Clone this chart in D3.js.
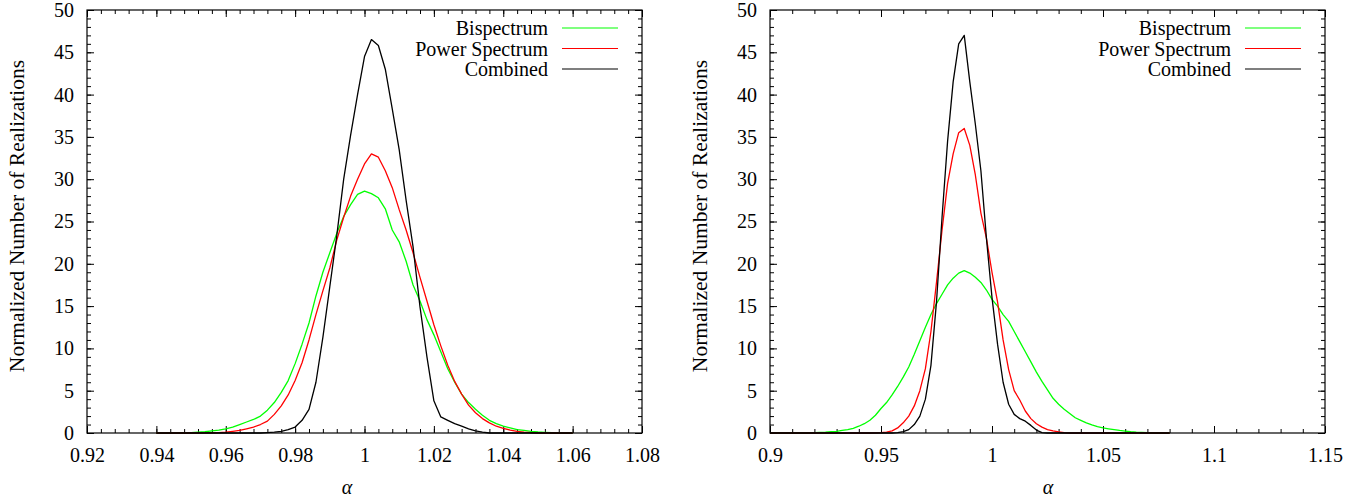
<!DOCTYPE html>
<html>
<head>
<meta charset="utf-8">
<script src="https://cdn.jsdelivr.net/npm/d3@7"></script>
<style>
body { margin: 0; background: #fff; }
svg text { font-family: "Liberation Serif", "Times New Roman", Times, "DejaVu Serif", serif; font-size: 20px; fill: #000; }
</style>
</head>
<body>
<div id="chart"></div>
<script>
var seriesNames = ["Bispectrum", "Power Spectrum", "Combined"];
var seriesColors = ["#00ff00", "#ff0000", "#000000"];

// left panel
var leftAlpha = [
  0.940,0.942,0.944,0.946,0.948,0.950,0.952,0.954,0.956,0.958,
  0.960,0.962,0.964,0.966,0.968,0.970,0.972,0.974,0.976,0.978,
  0.980,0.982,0.984,0.986,0.988,0.990,0.992,0.994,0.996,0.998,
  1.000,1.002,1.004,1.006,1.008,1.010,1.012,1.014,1.016,1.018,
  1.020,1.022,1.024,1.026,1.028,1.030,1.032,1.034,1.036,1.038,
  1.040,1.042,1.044,1.046,1.048,1.050,1.052,1.054,1.056,1.058,
  1.060
];
var leftBispectrum = [
  0,0,0,0.02,0.03,0.05,0.1,0.15,0.25,0.35,
  0.5,0.7,1.0,1.3,1.6,2.0,2.7,3.6,4.8,6.2,
  8.2,10.5,13.0,16.2,19.0,21.3,23.6,25.6,27.0,28.2,
  28.6,28.3,27.8,26.5,24.0,22.6,20.3,17.5,15.6,13.4,
  11.6,9.6,7.6,6.0,4.6,3.6,2.8,2.1,1.5,1.1,
  0.8,0.6,0.4,0.3,0.2,0.12,0.07,0.03,0,0,
  0
];
var leftPower = [
  0,0,0,0,0,0,0,0.02,0.03,0.05,
  0.1,0.2,0.3,0.5,0.7,1.0,1.4,2.2,3.2,4.5,
  6.2,8.3,11.0,14.0,16.8,19.5,22.8,25.5,28.0,30.0,
  31.8,33.0,32.6,31.0,29.0,26.4,24.0,21.3,18.4,15.6,
  12.8,10.3,8.0,6.1,4.6,3.3,2.4,1.7,1.2,0.8,
  0.55,0.35,0.2,0.1,0.05,0,0,0,0,0,
  0
];
var leftCombined = [
  0,0,0,0,0,0,0,0,0,0,
  0,0,0,0,0,0,0.05,0.1,0.2,0.4,
  0.7,1.5,2.8,6.0,11.3,17.3,23.3,30.0,35.2,40.0,
  44.5,46.5,45.8,43.0,38.3,33.5,27.5,22.0,14.9,9.0,
  3.8,1.9,1.5,1.1,0.8,0.5,0.25,0.1,0,0,
  0,0,0,0,0,0,0,0,0,0,
  0
];
var leftTicksX = [0.92, 0.94, 0.96, 0.98, 1.0, 1.02, 1.04, 1.06, 1.08];

// right panel
var rightAlpha = [
  0.9000,0.9025,0.9050,0.9075,0.9100,0.9125,0.9150,0.9175,0.9200,0.9225,
  0.9250,0.9275,0.9300,0.9325,0.9350,0.9375,0.9400,0.9425,0.9450,0.9475,
  0.9500,0.9525,0.9550,0.9575,0.9600,0.9625,0.9650,0.9675,0.9700,0.9725,
  0.9750,0.9775,0.9800,0.9825,0.9850,0.9875,0.9900,0.9925,0.9950,0.9975,
  1.0000,1.0025,1.0050,1.0075,1.0100,1.0125,1.0150,1.0175,1.0200,1.0225,
  1.0250,1.0275,1.0300,1.0325,1.0350,1.0375,1.0400,1.0425,1.0450,1.0475,
  1.0500,1.0525,1.0550,1.0575,1.0600,1.0625,1.0650,1.0675,1.0700,1.0725,
  1.0750,1.0775,1.0800
];
var rightBispectrum = [
  0,0,0,0,0,0,0,0.02,0.05,0.08,
  0.1,0.15,0.2,0.3,0.4,0.55,0.8,1.1,1.5,2.1,
  2.9,3.6,4.5,5.5,6.6,7.8,9.3,10.9,12.5,14.0,
  15.3,16.4,17.5,18.3,18.9,19.2,18.9,18.4,17.8,16.9,
  15.8,15.0,14.0,13.2,12.0,10.8,9.6,8.4,7.2,6.1,
  5.1,4.1,3.4,2.8,2.3,1.8,1.5,1.2,0.95,0.75,
  0.6,0.5,0.4,0.3,0.22,0.15,0.1,0.07,0.04,0.02,
  0,0,0
];
var rightPower = [
  0,0,0,0,0,0,0,0,0,0,
  0,0,0,0,0,0,0,0,0,0.02,
  0.05,0.1,0.25,0.6,1.2,2.0,3.2,5.0,7.6,12.0,
  17.8,24.0,29.5,33.0,35.5,36.0,34.0,30.5,26.0,23.0,
  19.0,15.5,11.0,7.5,5.0,3.9,2.6,1.7,1.1,0.7,
  0.4,0.25,0.12,0.05,0,0,0,0,0,0,
  0,0,0,0,0,0,0,0,0,0,
  0,0,0
];
var rightCombined = [
  0,0,0,0,0,0,0,0,0,0,
  0,0,0,0,0,0,0,0,0,0,
  0,0,0,0.05,0.15,0.4,1.0,2.0,4.0,8.0,
  15.5,25.5,34.5,41.5,46.0,47.0,41.5,36.5,31.0,23.0,
  16.0,10.5,6.0,3.4,2.2,1.7,1.4,0.9,0.35,0.05,
  0,0,0,0,0,0,0,0,0,0,
  0,0,0,0,0,0,0,0,0,0,
  0,0,0
];
var rightTicksX = [0.9, 0.95, 1.0, 1.05, 1.1, 1.15];

var yTicks = [0, 5, 10, 15, 20, 25, 30, 35, 40, 45, 50];

var SERIF = "'Liberation Serif', 'Times New Roman', Times, 'DejaVu Serif', serif";

var W = 1369, H = 501;
var svg = d3.select("#chart").append("svg")
            .attr("width", W)
            .attr("height", H)
            .attr("font-family", SERIF);

function fmt(d)
{
  return String(+d.toFixed(4));
}

function drawPanel(p)
{
  var top = 10, bottom = 433;
  var x = d3.scaleLinear().domain(p.xDomain).range([p.left, p.right]);
  var y = d3.scaleLinear().domain([0, 50]).range([bottom, top]);

  var xMinor = d3.range(p.xDomain[0], p.xDomain[1] + p.minorStep / 2, p.minorStep);
  var yMinor = d3.range(0, 50.5, 1);

  var g = svg.append("g");

  // minor ticks, all four sides, pointing inward
  g.append("g").attr("transform", "translate(0," + bottom + ")")
   .call(d3.axisBottom(x).tickValues(xMinor).tickSize(-4).tickFormat(""));
  g.append("g").attr("transform", "translate(0," + top + ")")
   .call(d3.axisTop(x).tickValues(xMinor).tickSize(-4).tickFormat(""));
  g.append("g").attr("transform", "translate(" + p.left + ",0)")
   .call(d3.axisLeft(y).tickValues(yMinor).tickSize(-4).tickFormat(""));
  g.append("g").attr("transform", "translate(" + p.right + ",0)")
   .call(d3.axisRight(y).tickValues(yMinor).tickSize(-4).tickFormat(""));

  // major ticks + labels
  g.append("g").attr("transform", "translate(0," + bottom + ")")
   .call(d3.axisBottom(x).tickValues(p.ticks).tickSize(-7).tickPadding(15).tickFormat(fmt));
  g.append("g").attr("transform", "translate(0," + top + ")")
   .call(d3.axisTop(x).tickValues(p.ticks).tickSize(-7).tickFormat(""));
  g.append("g").attr("transform", "translate(" + p.left + ",0)")
   .call(d3.axisLeft(y).tickValues(yTicks).tickSize(-7).tickPadding(13).tickFormat(fmt));
  g.append("g").attr("transform", "translate(" + p.right + ",0)")
   .call(d3.axisRight(y).tickValues(yTicks).tickSize(-7).tickFormat(""));

  g.selectAll("g").attr("font-family", SERIF).attr("font-size", 20);
  g.selectAll(".domain").remove();
  g.selectAll(".tick line").attr("stroke", "#000");
  g.selectAll(".tick text").attr("fill", "#000");

  // curves
  var line = d3.line()
               .x(function (d) { return x(d[0]); })
               .y(function (d) { return y(d[1]); });

  p.series.forEach(function (vals, i)
  {
    var pts = p.alpha.map(function (a, k) { return [a, vals[k]]; });
    g.append("path")
     .datum(pts)
     .attr("d", line)
     .attr("fill", "none")
     .attr("stroke", seriesColors[i])
     .attr("stroke-width", 1.3)
     .attr("stroke-linejoin", "round");
  });

  // border
  g.append("rect")
   .attr("x", p.left)
   .attr("y", top)
   .attr("width", p.right - p.left)
   .attr("height", bottom - top)
   .attr("fill", "none")
   .attr("stroke", "#000")
   .attr("stroke-width", 1.2);

  // legend
  var rowY = [28, 48.5, 69];
  seriesNames.forEach(function (name, i)
  {
    g.append("text")
     .attr("x", p.legendX)
     .attr("y", rowY[i])
     .attr("dy", "0.35em")
     .attr("text-anchor", "end")
     .text(name);
    g.append("line")
     .attr("x1", p.legendX + 14)
     .attr("x2", p.legendX + 70)
     .attr("y1", rowY[i])
     .attr("y2", rowY[i])
     .attr("stroke", seriesColors[i])
     .attr("stroke-width", 1.2);
  });

  // axis titles
  g.append("text")
   .attr("transform", "translate(" + p.yTitleX + ",216) rotate(-90)")
   .attr("text-anchor", "middle")
   .style("font-size", "21.5px")
   .text("Normalized Number of Realizations");

  g.append("text")
   .attr("x", p.alphaX)
   .attr("y", 494)
   .attr("text-anchor", "middle")
   .style("font-style", "italic")
   .text("\u03b1");
}

drawPanel({
  left: 87, right: 642,
  xDomain: [0.92, 1.08], minorStep: 0.004, ticks: leftTicksX,
  alpha: leftAlpha, series: [leftBispectrum, leftPower, leftCombined],
  legendX: 548, yTitleX: 24, alphaX: 347
});

drawPanel({
  left: 770, right: 1325,
  xDomain: [0.9, 1.15], minorStep: 0.01, ticks: rightTicksX,
  alpha: rightAlpha, series: [rightBispectrum, rightPower, rightCombined],
  legendX: 1231, yTitleX: 707, alphaX: 1048
});
</script>
</body>
</html>
